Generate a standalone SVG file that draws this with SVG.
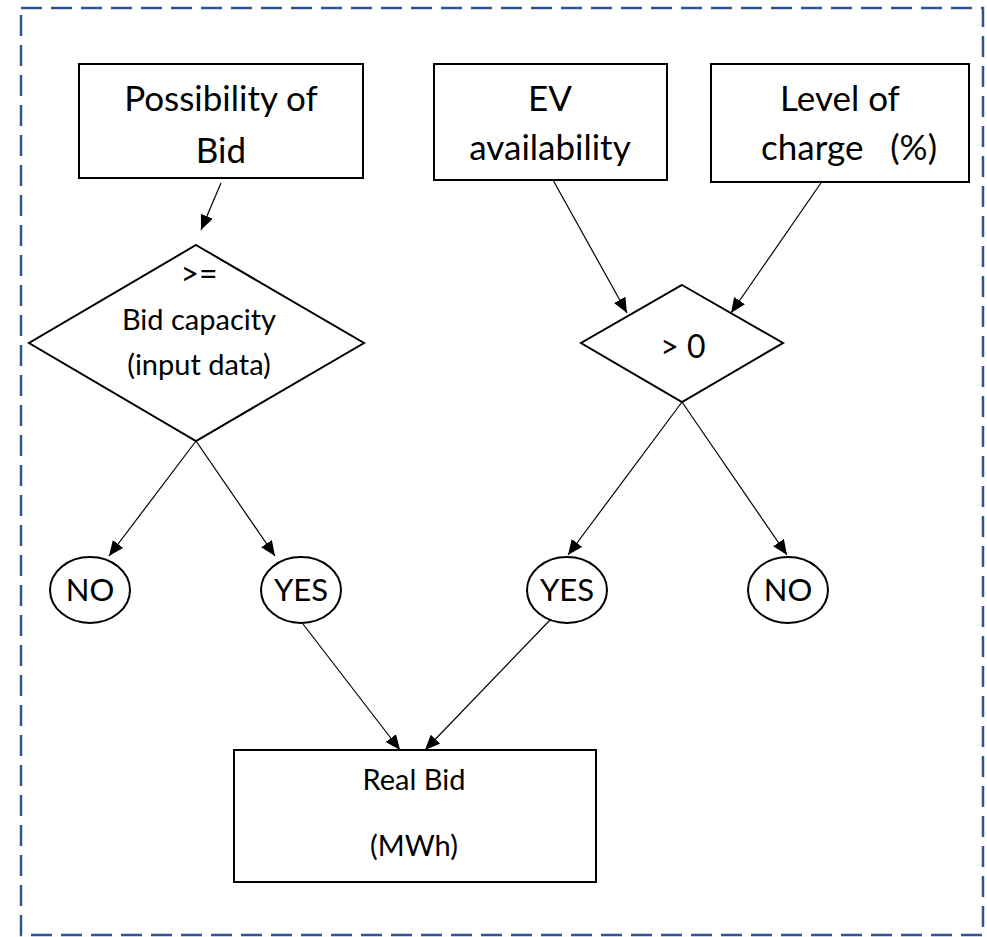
<svg xmlns="http://www.w3.org/2000/svg" width="987" height="937" viewBox="0 0 987 937">
  <style>
    .box { fill: #fff; stroke: #000; stroke-width: 2; }
    .frame { fill: none; stroke: #2F5597; stroke-width: 2.5; stroke-dasharray: 21 9; }
    .t { font-family: Lato, "Open Sans", sans-serif; fill: #000; text-anchor: middle; }
    .big { font-size: 35px; }
    .mid { font-size: 29px; }
    .oval { font-size: 31px; }
    .edge { fill: none; stroke: #000; stroke-width: 1.2; marker-end: url(#arrow); }
  </style>
  <defs>
    <marker id="arrow" markerUnits="userSpaceOnUse" markerWidth="16" markerHeight="14" refX="15" refY="6.5" orient="auto">
      <path d="M0,0 L15,6.5 L0,13 z" fill="#000"/>
    </marker>
  </defs>

  <rect id="frame" class="frame" x="21" y="8" width="962" height="927"/>

  <g id="connectors">
    <line class="edge" x1="221" y1="183" x2="201" y2="230"/>
    <line class="edge" x1="196" y1="441" x2="109" y2="556"/>
    <line class="edge" x1="196" y1="441" x2="275" y2="556"/>
    <line class="edge" x1="553" y1="180" x2="627" y2="313"/>
    <line class="edge" x1="823" y1="180" x2="731" y2="313"/>
    <line class="edge" x1="682" y1="402" x2="568" y2="555"/>
    <line class="edge" x1="682" y1="402" x2="787" y2="555"/>
    <line class="edge" x1="303" y1="624" x2="400" y2="750"/>
    <line class="edge" x1="552" y1="618" x2="425" y2="750"/>
  </g>

  <g id="possibility-of-bid">
    <rect class="box" x="79" y="64" width="284" height="114"/>
    <text class="t big" x="221" y="111">Possibility of</text>
    <text class="t big" x="221" y="163">Bid</text>
  </g>

  <g id="ev-availability">
    <rect class="box" x="434" y="64" width="233" height="116"/>
    <text class="t big" x="550" y="111">EV</text>
    <text class="t big" x="550" y="160">availability</text>
  </g>

  <g id="level-of-charge">
    <rect class="box" x="711" y="64" width="258" height="118"/>
    <text class="t big" x="840" y="111">Level of</text>
    <text class="t big" x="849" y="160" xml:space="preserve">charge   (%)</text>
  </g>

  <g id="bid-capacity-check">
    <polygon class="box" points="196,245 364,343 196,441 29,343"/>
    <text class="t" font-size="32" x="199" y="285">&gt;=</text>
    <text class="t mid" x="199" y="330">Bid capacity</text>
    <text class="t mid" x="199" y="375">(input data)</text>
  </g>

  <g id="charge-check">
    <polygon class="box" points="682,285 783,343 682,402 581,343"/>
    <text class="t" font-size="32" x="683" y="358">&gt; 0</text>
  </g>

  <g id="no-left">
    <ellipse class="box" cx="90" cy="590" rx="40" ry="33"/>
    <text class="t oval" x="90" y="601">NO</text>
  </g>

  <g id="yes-left">
    <ellipse class="box" cx="301" cy="590" rx="40" ry="33"/>
    <text class="t oval" x="301" y="601">YES</text>
  </g>

  <g id="yes-right">
    <ellipse class="box" cx="567" cy="590" rx="40" ry="33"/>
    <text class="t oval" x="567" y="601">YES</text>
  </g>

  <g id="no-right">
    <ellipse class="box" cx="788" cy="590" rx="40" ry="33"/>
    <text class="t oval" x="788" y="601">NO</text>
  </g>

  <g id="real-bid">
    <rect class="box" x="234" y="750" width="362" height="132"/>
    <text class="t mid" x="414" y="790">Real Bid</text>
    <text class="t mid" x="414" y="856">(MWh)</text>
  </g>
</svg>
